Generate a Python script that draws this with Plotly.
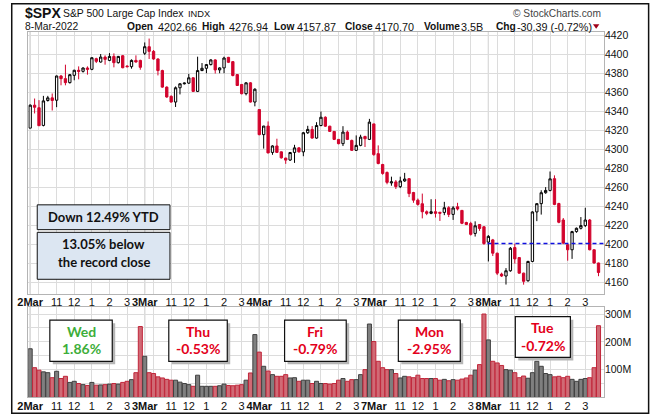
import plotly.graph_objects as go

W, H = 650, 415
def px(x): return x / W
def py(y): return 1 - y / H

# ---------------- data (15-minute bars, 26 per session) ----------------
day_labels = ["2Mar", "3Mar", "4Mar", "7Mar", "8Mar"]
hour_labels = ["11", "12", "1", "2", "3"]
day_changes = ["1.86%", "-0.53%", "-0.79%", "-2.95%", "-0.72%"]
day_names = ["Wed", "Thu", "Fri", "Mon", "Tue"]
price_ticks = [4160, 4180, 4200, 4220, 4240, 4260, 4280, 4300, 4320, 4340, 4360, 4380, 4400, 4420]
volume_ticks_m = [50, 100, 150, 200, 250, 300]
volume_tick_text = ["", "100M", "", "200M", "", "300M"]
prev_close = 4201.09

opens = [
    4322.56, 4346.7, 4344.0, 4325.4, 4351.6, 4354.4, 4351.9, 4377.4, 4374.6, 4370.4, 4378.1, 4383.4, 4382.3,
    4385.8, 4384.4, 4395.6, 4392.1, 4397.3, 4393.8, 4398.0, 4391.4, 4398.7, 4387.9, 4387.2, 4393.8, 4393.8,
    4401.31, 4408.2, 4403.3, 4395.3, 4383.1, 4365.7, 4356.0, 4350.0, 4365.0, 4369.2, 4369.9, 4375.5, 4361.2,
    4383.1, 4385.5, 4389.4, 4394.3, 4383.8, 4385.9, 4397.0, 4392.5, 4378.9, 4368.5, 4358.8, 4370.2, 4350.0,
    4342.12, 4315.7, 4324.7, 4297.0, 4303.8, 4297.6, 4291.0, 4289.0, 4297.0, 4301.8, 4297.6, 4317.7, 4321.2,
    4312.1, 4325.3, 4334.0, 4324.6, 4319.1, 4310.7, 4306.2, 4318.4, 4309.6, 4299.2, 4304.4, 4313.8, 4310.7,
    4327.01, 4295.7, 4284.3, 4275.9, 4264.9, 4266.0, 4261.0, 4267.0, 4269.4, 4254.8, 4246.8, 4243.0, 4234.6,
    4232.9, 4234.6, 4234.0, 4233.9, 4238.8, 4231.8, 4239.8, 4236.0, 4223.3, 4222.3, 4211.8, 4221.2, 4218.8,
    4202.66, 4205.0, 4191.0, 4169.0, 4167.0, 4172.5, 4196.9, 4186.4, 4170.0, 4162.0, 4182.3, 4234.4, 4243.1,
    4254.6, 4257.0, 4269.4, 4243.3, 4225.9, 4199.9, 4194.6, 4213.7, 4217.2, 4220.0, 4225.9, 4194.6, 4180.7,
]
highs = [
    4347.5, 4353.7, 4352.0, 4356.5, 4356.5, 4359.0, 4377.8, 4378.5, 4389.3, 4379.5, 4384.0, 4387.5, 4386.5,
    4387.5, 4397.0, 4396.6, 4400.5, 4399.1, 4401.48, 4401.2, 4398.5, 4399.5, 4388.5, 4394.9, 4399.1, 4394.5,
    4412.7, 4416.78, 4404.7, 4396.0, 4384.0, 4366.5, 4357.0, 4366.4, 4369.8, 4370.5, 4379.6, 4376.0, 4397.7,
    4391.0, 4390.0, 4395.0, 4395.0, 4386.5, 4397.7, 4397.5, 4393.0, 4379.5, 4369.0, 4371.0, 4371.0, 4364.5,
    4342.12, 4325.0, 4329.6, 4304.5, 4311.4, 4298.0, 4291.5, 4297.5, 4305.0, 4302.5, 4318.5, 4325.0, 4324.7,
    4328.8, 4340.0, 4335.0, 4325.0, 4319.5, 4311.0, 4324.6, 4320.0, 4310.5, 4314.9, 4315.6, 4314.5, 4332.3,
    4327.01, 4304.4, 4285.0, 4277.0, 4271.5, 4268.0, 4271.5, 4275.5, 4270.0, 4255.5, 4248.5, 4253.7, 4236.0,
    4247.8, 4247.8, 4234.5, 4245.0, 4240.5, 4240.5, 4244.0, 4236.5, 4224.0, 4224.0, 4224.5, 4221.5, 4219.5,
    4210.0, 4206.0, 4191.5, 4170.5, 4175.3, 4197.5, 4201.0, 4187.0, 4170.5, 4183.0, 4235.0, 4243.5, 4257.2,
    4260.5, 4276.94, 4272.9, 4244.0, 4228.0, 4200.5, 4214.5, 4218.0, 4229.0, 4238.8, 4227.0, 4195.0, 4181.0,
]
lows = [
    4322.5, 4338.0, 4324.8, 4324.4, 4350.5, 4341.1, 4344.6, 4367.6, 4367.6, 4369.5, 4372.9, 4373.9, 4381.0,
    4378.8, 4383.5, 4391.0, 4391.5, 4389.3, 4393.0, 4386.5, 4390.5, 4385.5, 4386.5, 4385.1, 4391.5, 4384.0,
    4399.5, 4395.3, 4394.5, 4378.0, 4365.0, 4354.5, 4349.5, 4344.8, 4358.0, 4368.5, 4369.0, 4360.5, 4360.5,
    4382.5, 4380.3, 4388.5, 4380.0, 4380.3, 4380.3, 4391.0, 4377.0, 4367.0, 4358.0, 4357.0, 4349.5, 4345.5,
    4315.0, 4301.0, 4296.0, 4294.5, 4296.5, 4290.5, 4284.98, 4288.0, 4286.0, 4296.8, 4293.0, 4316.5, 4311.5,
    4311.4, 4324.5, 4323.8, 4318.5, 4310.0, 4305.5, 4303.7, 4310.0, 4298.5, 4298.5, 4303.5, 4302.7, 4310.0,
    4293.5, 4284.5, 4273.5, 4263.5, 4262.0, 4258.5, 4259.5, 4266.0, 4250.0, 4244.0, 4241.0, 4227.6, 4231.0,
    4232.0, 4228.5, 4224.9, 4231.0, 4229.0, 4226.0, 4236.0, 4221.5, 4220.5, 4209.5, 4208.5, 4214.5, 4199.85,
    4182.3, 4188.0, 4168.0, 4166.0, 4158.0, 4171.5, 4180.0, 4169.5, 4157.87, 4161.0, 4181.5, 4224.7, 4231.6,
    4253.5, 4256.0, 4241.5, 4222.5, 4200.5, 4183.1, 4185.0, 4212.5, 4216.0, 4218.5, 4194.0, 4180.0, 4166.8,
]
closes = [
    4346.7, 4344.5, 4325.1, 4351.2, 4354.4, 4351.6, 4377.4, 4374.6, 4370.4, 4378.8, 4383.4, 4382.3, 4385.8,
    4384.4, 4396.6, 4392.8, 4397.3, 4394.9, 4398.0, 4391.4, 4398.0, 4386.1, 4387.2, 4393.8, 4392.1, 4386.54,
    4408.2, 4403.3, 4395.3, 4383.1, 4365.7, 4355.3, 4350.0, 4365.0, 4369.2, 4369.9, 4375.5, 4361.2, 4383.1,
    4385.5, 4389.4, 4394.3, 4383.8, 4385.9, 4396.3, 4391.8, 4377.9, 4367.4, 4358.8, 4370.2, 4350.0, 4363.49,
    4315.7, 4324.7, 4296.5, 4303.8, 4297.0, 4291.3, 4288.9, 4296.9, 4301.8, 4297.6, 4317.7, 4321.2, 4312.1,
    4325.3, 4334.0, 4324.6, 4319.1, 4310.7, 4306.2, 4318.4, 4310.7, 4299.2, 4304.4, 4313.1, 4311.4, 4328.87,
    4294.7, 4285.3, 4274.9, 4265.5, 4266.0, 4261.0, 4267.0, 4269.0, 4253.7, 4246.8, 4242.3, 4234.6, 4232.9,
    4234.6, 4232.9, 4233.0, 4238.8, 4231.8, 4238.6, 4237.5, 4222.4, 4221.2, 4210.8, 4219.8, 4217.0, 4201.09,
    4208.7, 4191.0, 4170.0, 4167.0, 4172.5, 4196.2, 4185.0, 4170.0, 4161.4, 4182.3, 4234.4, 4243.1, 4254.6,
    4257.0, 4269.2, 4242.3, 4223.5, 4201.6, 4194.6, 4213.7, 4217.2, 4220.0, 4225.9, 4194.6, 4180.7, 4170.70,
]
volumes_m = [
    175, 107, 98, 92, 89, 71, 94, 68, 76, 54, 58, 50, 46, 43, 54, 44, 45, 46, 48, 50, 48, 54, 58, 64, 89, 255,
    148, 89, 86, 74, 70, 65, 62, 62, 55, 50, 46, 40, 80, 40, 40, 40, 40, 42, 48, 43, 42, 44, 46, 62, 88, 226,
    163, 112, 95, 82, 76, 76, 82, 70, 71, 58, 62, 62, 50, 58, 50, 50, 48, 50, 62, 68, 58, 64, 64, 82, 100, 264,
    201, 130, 107, 100, 100, 86, 70, 76, 74, 71, 80, 68, 68, 68, 68, 62, 65, 60, 64, 62, 66, 70, 80, 98, 118, 300,
    207, 130, 124, 115, 100, 98, 89, 71, 77, 69, 89, 130, 112, 86, 82, 74, 76, 71, 76, 65, 58, 65, 68, 71, 107, 258,
]

# ---------------- figure ----------------
FONT = "Liberation Sans, Arial, sans-serif"
BOXFONT = "Lato, Carlito, Calibri, sans-serif"
RED = "#d2042d"
PAD = 4  # plotly annotation inner padding (px)
x = list(range(len(closes)))
n_days = len(day_labels)
bpd = 26

tickvals, ticktext = [], []
for d in range(n_days):
    b = d * bpd
    tickvals += [b, b + 2, b + 6, b + 10, b + 14, b + 18, b + 22]
    ticktext += ["<b>%s</b>" % day_labels[d], ""] + hour_labels

up = [c >= o for o, c in zip(opens, closes)]
vol_fill = ["#7f7f7f" if u else "#d06a75" for u in up]
vol_line = ["#404040" if u else "#c0263a" for u in up]

fig = go.Figure()
fig.add_trace(go.Bar(
    x=x, y=[v * 1e6 for v in volumes_m], width=0.92,
    marker=dict(color=vol_fill, line=dict(color=vol_line, width=1)),
    xaxis="x2", yaxis="y2", showlegend=False, hoverinfo="skip"))
fig.add_trace(go.Candlestick(
    x=x, open=opens, high=highs, low=lows, close=closes,
    increasing=dict(line=dict(color="black", width=1), fillcolor="white"),
    decreasing=dict(line=dict(color=RED, width=1), fillcolor=RED),
    whiskerwidth=0, xaxis="x", yaxis="y", showlegend=False, hoverinfo="skip"))

xr = [-0.45, 130.2]
xdom = [px(17.5), px(603)]
common_x = dict(domain=xdom, range=xr, tickmode="array", tickvals=tickvals, ticktext=ticktext,
                tickangle=0, showgrid=True, gridcolor="#dcdcdc", gridwidth=1, ticks="", zeroline=False,
                showline=True, mirror=True, linecolor="#b4b4b4", linewidth=1, ticklabelstandoff=-2,
                tickfont=dict(family=FONT, size=11, color="#111"), fixedrange=True)
fig.update_layout(
    width=W, height=H, margin=dict(l=0, r=0, t=0, b=0), autosize=False,
    paper_bgcolor="white", plot_bgcolor="white", boxgap=0.25,
    xaxis=dict(anchor="y", rangeslider=dict(visible=False), **common_x),
    xaxis2=dict(anchor="y2", **common_x),
    yaxis=dict(domain=[py(292.7), py(29)], range=[4148.5, 4423.9], side="right",
               tickvals=price_ticks, ticktext=[str(t) for t in price_ticks],
               showgrid=True, gridcolor="#dcdcdc", ticks="", zeroline=False,
               showline=True, mirror=True, linecolor="#b4b4b4", ticklabelstandoff=-2,
               tickfont=dict(family=FONT, size=10.5, color="#111"), fixedrange=True),
    yaxis2=dict(domain=[py(397.3), py(306)], range=[0, 326e6], side="right",
                tickvals=[v * 1e6 for v in volume_ticks_m], ticktext=volume_tick_text,
                showgrid=True, gridcolor="#dcdcdc", ticks="", zeroline=False,
                showline=True, mirror=True, linecolor="#b4b4b4", ticklabelstandoff=-2,
                tickfont=dict(family=FONT, size=10.5, color="#111"), fixedrange=True),
)

shapes = []
for d in range(n_days):
    b = d * bpd
    for xa, ya in (("x", "y domain"), ("x2", "y2 domain")):
        shapes.append(dict(type="line", xref=xa, yref=ya, x0=b, x1=b, y0=0, y1=1,
                           line=dict(color="#a9a9a9", width=1), layer="below"))
# previous close line
shapes.append(dict(type="line", xref="x", yref="y", x0=4 * bpd - 0.2, x1=xr[1],
                   y0=prev_close, y1=prev_close, line=dict(color="#1010e0", width=1.5, dash="4px,3px")))

annotations = []
def txt(x0, y0, s, size, color="#111", bold=False, anchor="left", family=FONT):
    if anchor == "left":
        x0 -= PAD
    elif anchor == "right":
        x0 += PAD
    annotations.append(dict(xref="paper", yref="paper", x=px(x0), y=py(y0), text=("<b>%s</b>" % s) if bold else s,
                            showarrow=False, xanchor=anchor, yanchor="middle",
                            font=dict(family=family, size=size, color=color)))

txt(16.5, 10.5, "$SPX", 14, bold=True)
txt(55, 11, "S&P 500 Large Cap Index", 10.4)
txt(182.5, 11, "INDX", 9.3)
txt(16.5, 24, "8-Mar-2022", 10.3)
header = [(120, "Open", True), (151.7, "4202.66", False), (196.7, "High", True), (224, "4276.94", False),
          (269.3, "Low", True), (293.3, "4157.87", False), (341.7, "Close", True), (372.7, "4170.70", False),
          (421.7, "Volume", True), (459.5, "3.5B", False), (495, "Chg", True), (516.7, "-30.39 (-0.72%)", False)]
for hx, s, b in header:
    txt(hx, 24, s, 10.2 if b else 10.8, bold=b)
txt(598.5, 10.5, "© StockCharts.com", 10.2, color="#444", anchor="right")
# red down triangle
shapes.append(dict(type="path", xref="paper", yref="paper",
                   path="M %f %f L %f %f L %f %f Z" % (px(592), py(21.5), px(598.5), py(21.5), px(595.25), py(26)),
                   fillcolor="#a0001a", line=dict(width=0)))

# info boxes in the price panel
for (x0, y0, x1, y1) in [(26.7, 203.3, 161.7, 228.3), (26.7, 231, 161.7, 278.3)]:
    shapes.append(dict(type="rect", xref="paper", yref="paper", x0=px(x0), x1=px(x1), y0=py(y1), y1=py(y0),
                       fillcolor="#dce6f2", line=dict(color="#111", width=1)))
txt(94.2, 216, "Down 12.49% YTD", 13, bold=True, anchor="center", family=BOXFONT)
txt(94.2, 243, "13.05% below", 13, bold=True, anchor="center", family=BOXFONT)
txt(94.2, 261, "the record close", 13, bold=True, anchor="center", family=BOXFONT)

# day change boxes in the volume panel
day_boxes = [(39.5, 319.5, 103, 361), (160.5, 319.5, 220, 361), (278.3, 319.5, 341, 361),
             (394, 319.5, 457, 361), (513, 316, 569, 357)]
for d, (x0, y0, x1, y1) in enumerate(day_boxes):
    shapes.append(dict(type="rect", xref="paper", yref="paper", x0=px(x0 + 3), x1=px(x1 + 3),
                       y0=py(y1 + 3), y1=py(y0 + 3), fillcolor="#b5b5b5", line=dict(width=0)))
    shapes.append(dict(type="rect", xref="paper", yref="paper", x0=px(x0), x1=px(x1), y0=py(y1), y1=py(y0),
                       fillcolor="white", line=dict(color="#111", width=1.2)))
    col = "#3dae3a" if not day_changes[d].startswith("-") else "#e3001b"
    cx = (x0 + x1) / 2
    txt(cx, y0 + 11, day_names[d], 14, color=col, bold=True, anchor="center", family=BOXFONT)
    txt(cx, y0 + 29, day_changes[d], 14, color=col, bold=True, anchor="center", family=BOXFONT)

# outer frame
shapes.append(dict(type="rect", xref="paper", yref="paper", x0=px(0.75), x1=px(648.6), y0=py(413.3), y1=py(0.75),
                   line=dict(color="#111", width=1.5), fillcolor="rgba(0,0,0,0)"))

fig.update_layout(shapes=shapes, annotations=annotations)
fig.write_html("out.html", config={"displayModeBar": False})
